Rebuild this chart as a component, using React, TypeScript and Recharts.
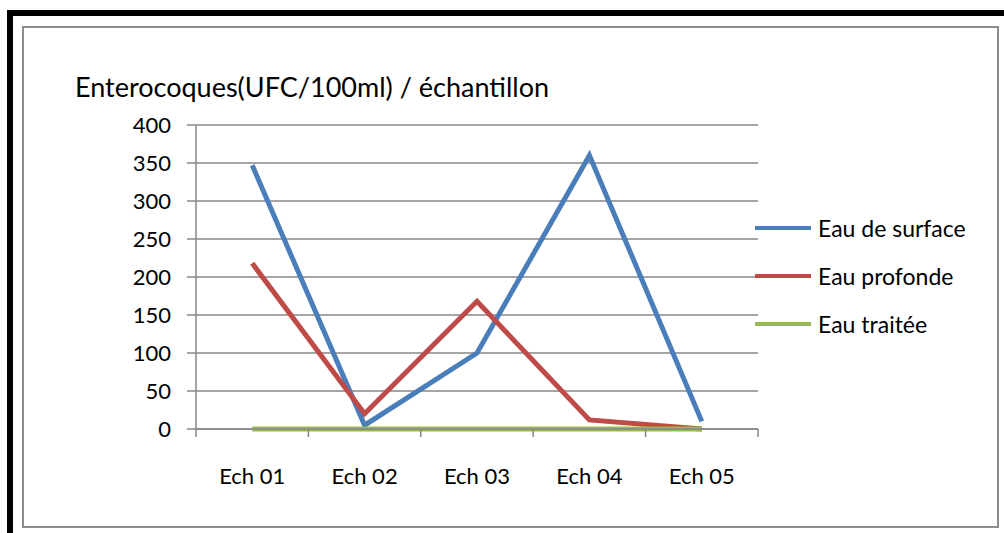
import React from 'react';
import { CartesianGrid, Line, LineChart, XAxis, YAxis } from 'recharts';

const categories = ['Ech 01', 'Ech 02', 'Ech 03', 'Ech 04', 'Ech 05'];
const surface = [347, 5, 100, 360, 10];
const profonde = [218, 20, 168, 12, 0];
const traitee = [0, 0, 0, 0, 0];
const yTicks = [0, 50, 100, 150, 200, 250, 300, 350, 400];

const series = [
  { key: 'Eau de surface', color: '#4a7ebb', values: surface },
  { key: 'Eau profonde', color: '#be4b48', values: profonde },
  { key: 'Eau traitée', color: '#98b954', values: traitee },
];

const data = categories.map((name, i) => {
  const row: Record<string, any> = { name };
  series.forEach((s) => {
    row[s.key] = s.values[i];
  });
  return row;
});

const FONT = 'Lato, "Open Sans", sans-serif';
const GRID = '#878787';
const W = 1004;
const H = 533;
const margin = { top: 125, right: 246, left: 136, bottom: 64 };
const yAxisWidth = 60;
const plotWidth = W - margin.left - yAxisWidth - margin.right;
const step = plotWidth / categories.length;

const XTick = (props: any) => {
  const { x, y, payload, index } = props;
  return (
    <g>
      <line x1={x - step / 2} y1={y} x2={x - step / 2} y2={y + 8} stroke={GRID} strokeWidth={1.5} />
      {index === categories.length - 1 && (
        <line x1={x + step / 2} y1={y} x2={x + step / 2} y2={y + 8} stroke={GRID} strokeWidth={1.5} />
      )}
      <text x={x} y={y + 55} textAnchor="middle" fontSize={22} fill="#000" fontFamily={FONT}>
        {payload.value}
      </text>
    </g>
  );
};

const App = () => (
  <div style={{ position: 'absolute', left: 0, top: 0, width: W, height: H, background: '#fff' }}>
    <div style={{ position: 'absolute', left: 7, top: 10, width: W - 7, height: 6, background: '#000' }} />
    <div style={{ position: 'absolute', left: 7, top: 10, width: 6, height: H - 10, background: '#000' }} />
    <div
      style={{
        position: 'absolute',
        left: 22,
        top: 26,
        width: 973,
        height: 498,
        border: '2px solid #8c8c8c',
      }}
    />
    <div
      style={{
        position: 'absolute',
        left: 75,
        top: 70,
        fontFamily: FONT,
        fontSize: 27,
        color: '#000',
        whiteSpace: 'nowrap',
      }}
    >
      Enterocoques(UFC/100ml) / échantillon
    </div>
    <div style={{ position: 'absolute', left: 0, top: 0 }}>
      <LineChart width={W} height={H} data={data} margin={margin}>
        <CartesianGrid vertical={false} stroke={GRID} strokeWidth={1.5} />
        <XAxis
          dataKey="name"
          padding={{ left: step / 2, right: step / 2 }}
          axisLine={{ stroke: GRID, strokeWidth: 1.5 }}
          tickLine={false}
          tickSize={0}
          tickMargin={0}
          interval={0}
          height={40}
          tick={<XTick />}
        />
        <YAxis
          domain={[0, 400]}
          ticks={yTicks}
          interval={0}
          width={yAxisWidth}
          axisLine={{ stroke: GRID, strokeWidth: 1.5 }}
          tickLine={{ stroke: GRID, strokeWidth: 1.5 }}
          tickSize={9}
          tickMargin={16}
          tick={{ fontSize: 22, fill: '#000', fontFamily: FONT }}
        />
        {series.map((s) => (
          <Line
            key={s.key}
            type="linear"
            dataKey={s.key}
            stroke={s.color}
            strokeWidth={5}
            dot={false}
            isAnimationActive={false}
          />
        ))}
      </LineChart>
    </div>
    <div style={{ position: 'absolute', left: 755, top: 204, fontFamily: FONT, fontSize: 23, color: '#000' }}>
      {series.map((s) => (
        <div key={s.key} style={{ display: 'flex', alignItems: 'center', height: 48 }}>
          <span style={{ display: 'inline-block', width: 56, height: 4, background: s.color, marginRight: 7 }} />
          <span>{s.key}</span>
        </div>
      ))}
    </div>
  </div>
);

export default App;
